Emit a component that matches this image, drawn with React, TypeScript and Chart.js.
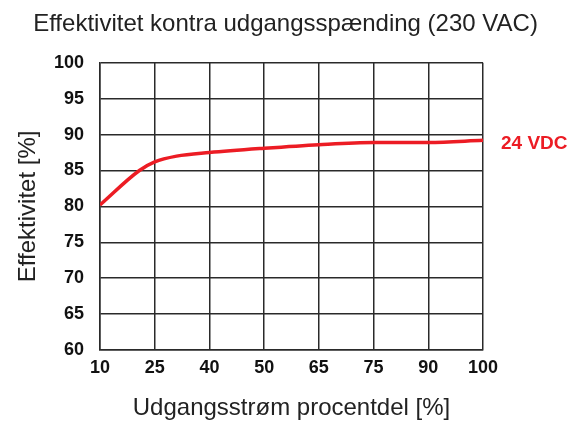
import React, { useEffect, useRef } from "react";
import { Chart, registerables } from "chart.js";

Chart.register(...registerables);

const chartTitle = "Effektivitet kontra udgangsspænding (230 VAC)";
const xAxisTitle = "Udgangsstrøm procentdel [%]";
const yAxisTitle = "Effektivitet [%]";
const seriesName = "24 VDC";

// tick labels of the evenly spaced category-like x axis
const xTickLabels = ["10", "25", "40", "50", "65", "75", "90", "100"];
// curve positions (in tick-index units) and efficiency values
const curveX = [0, 0.72, 1, 1.4, 2, 3, 4, 5, 6, 7];
const curveY = [80.2, 85.0, 86.2, 87.0, 87.5, 88.1, 88.6, 88.9, 88.9, 89.2];

const FONT = "'Liberation Sans', Arial, sans-serif";
const RED = "#ec1c24";

const seriesLabelPlugin = {
  id: "seriesLabel",
  afterDatasetsDraw(chart: any) {
    const ds = chart.data.datasets[0];
    const last = ds.data[ds.data.length - 1];
    const y = chart.scales.y.getPixelForValue(last.y);
    const ctx = chart.ctx;
    ctx.save();
    ctx.fillStyle = RED;
    ctx.font = `bold 19px ${FONT}`;
    ctx.textAlign = "left";
    ctx.textBaseline = "middle";
    ctx.fillText(ds.label, chart.chartArea.right + 18, y + 3);
    ctx.restore();
  },
};

export default function App() {
  const ref = useRef<HTMLCanvasElement>(null);
  useEffect(() => {
    if (!ref.current) return;
    const chart = new Chart(ref.current, {
      type: "line",
      data: {
        datasets: [
          {
            label: seriesName,
            data: curveX.map((x, i) => ({ x, y: curveY[i] })),
            borderColor: RED,
            borderWidth: 3.5,
            pointRadius: 0,
            cubicInterpolationMode: "monotone",
            fill: false,
          },
        ],
      },
      options: {
        animation: false,
        responsive: false,
        layout: { padding: { left: 0, right: 0, top: 0, bottom: 0 } },
        plugins: {
          legend: { display: false },
          tooltip: { enabled: false },
          title: {
            display: true,
            text: chartTitle,
            color: "#222",
            font: { family: FONT, size: 24, weight: "normal" },
            padding: { top: 10, bottom: 24 },
          },
        },
        scales: {
          x: {
            type: "linear",
            min: 0,
            max: 7,
            afterFit: (s: any) => {
              s.height = 78;
            },
            afterBuildTicks: (s: any) => {
              s.ticks = xTickLabels.map((_, i) => ({ value: i }));
            },
            ticks: {
              color: "#111",
              font: { family: FONT, size: 18, weight: "bold" },
              padding: 7,
              maxRotation: 0,
              autoSkip: false,
              callback: (v: any) => xTickLabels[Math.round(v)] ?? "",
            },
            grid: { color: "#2a2a2a", lineWidth: 1.5, drawTicks: false },
            border: { color: "#2a2a2a", width: 1.5 },
            title: {
              display: true,
              text: xAxisTitle,
              color: "#222",
              font: { family: FONT, size: 24, weight: "normal" },
              padding: { top: 0, bottom: 5 },
            },
          },
          y: {
            min: 60,
            max: 100,
            afterFit: (s: any) => {
              s.width = 100;
            },
            ticks: {
              stepSize: 5,
              color: "#111",
              font: { family: FONT, size: 18, weight: "bold" },
              padding: 16,
            },
            grid: { color: "#2a2a2a", lineWidth: 1.5, drawTicks: false },
            border: { color: "#2a2a2a", width: 1.5 },
            title: {
              display: true,
              text: yAxisTitle,
              color: "#222",
              font: { family: FONT, size: 24, weight: "normal" },
              padding: { top: 14, bottom: 0 },
            },
          },
          // empty right-hand axis that reserves room for the series label
          yRight: {
            type: "linear",
            position: "right",
            min: 60,
            max: 100,
            afterFit: (s: any) => {
              s.width = 88;
            },
            ticks: { display: false },
            grid: { display: false, drawTicks: false },
            border: { display: false },
          },
        },
      },
      plugins: [seriesLabelPlugin],
    } as any);
    return () => chart.destroy();
  }, []);
  return (
    <div style={{ position: "fixed", left: 0, top: 0, width: 571, height: 428, background: "#fff" }}>
      <canvas ref={ref} width={571} height={428} />
    </div>
  );
}
